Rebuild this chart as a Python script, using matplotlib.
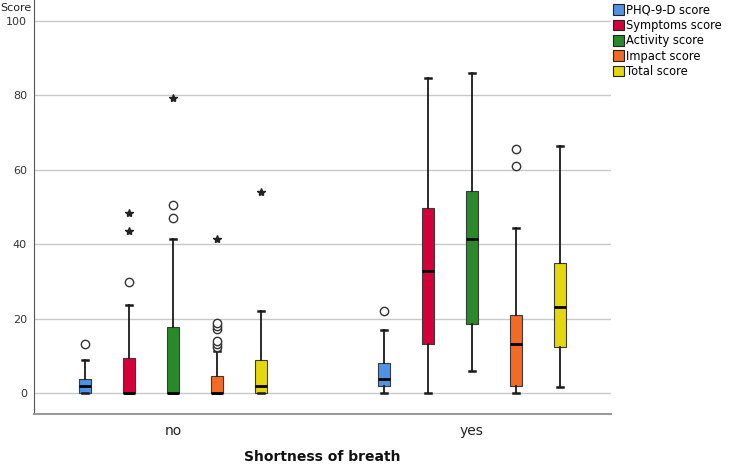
import matplotlib
matplotlib.use('Agg')
import matplotlib.pyplot as plt
from matplotlib.patches import Patch

groups = ['no', 'yes']
series = ['PHQ-9-D score', 'Symptoms score', 'Activity score', 'Impact score', 'Total score']
colors = ['#4f93e6', '#d4003a', '#2a8a2a', '#f26a24', '#e4d70c']

# five-number summaries [whislo, q1, med, q3, whishi]
no_stats = [
    [0, 0, 2.0, 3.9, 9.0],
    [0, 0, 0, 9.5, 23.7],
    [0, 0, 0, 17.7, 41.5],
    [0, 0, 0, 4.7, 11.4],
    [0, 0, 1.8, 9.0, 22.0],
]
yes_stats = [
    [0, 2.0, 3.9, 8.0, 17.0],
    [0, 13.3, 32.9, 49.8, 84.6],
    [6.0, 18.7, 41.5, 54.4, 86.0],
    [0, 2.0, 13.3, 21.0, 44.3],
    [1.7, 12.4, 23.1, 35.0, 66.4],
]
no_outliers = [[13.1], [29.8], [47.0, 50.5], [12.3, 13.2, 14.0, 17.2, 18.1, 18.9], []]
no_extremes = [[], [43.5, 48.5], [79.2], [41.5], [54.1]]
yes_outliers = [[22.0], [], [], [61.1, 65.5], []]
yes_extremes = [[], [], [], [], []]

y_ticks = [0, 20, 40, 60, 80, 100]

W, H = 729, 465
fig = plt.figure(figsize=(W / 100, H / 100), dpi=100)
ax = fig.add_axes([34 / W, 1 - 414 / H, (611 - 34) / W, 414 / H])

offsets = [-0.294, -0.147, 0.0, 0.147, 0.294]
box_w = 0.040

all_stats = [no_stats, yes_stats]
all_out = [no_outliers, yes_outliers]
all_ext = [no_extremes, yes_extremes]

for gi, g in enumerate(groups):
    for si in range(len(series)):
        lo, q1, med, q3, hi = all_stats[gi][si]
        pos = gi + offsets[si]
        st = dict(whislo=lo, q1=q1, med=med, q3=q3, whishi=hi, fliers=[])
        ax.bxp([st], positions=[pos], widths=box_w, patch_artist=True,
               showfliers=False, capwidths=0.018,
               boxprops=dict(facecolor=colors[si], edgecolor='#3a3a3a', linewidth=0.8),
               medianprops=dict(color='black', linewidth=2.0),
               whiskerprops=dict(color='#1a1a1a', linewidth=1.3),
               capprops=dict(color='#1a1a1a', linewidth=1.8),
               zorder=3)
        outs = all_out[gi][si]
        if outs:
            ax.plot([pos] * len(outs), outs, linestyle='none', marker='o',
                    markersize=6, markerfacecolor='white', markeredgecolor='#333333',
                    markeredgewidth=1.0, zorder=4)
        exts = all_ext[gi][si]
        if exts:
            ax.plot([pos] * len(exts), exts, linestyle='none', marker='*',
                    markersize=6, color='#222222', zorder=4)

ax.set_xlim(-0.465, 1.465)
ax.set_ylim(-5.6, 105.6)
ax.set_yticks(y_ticks)
ax.set_yticklabels([str(t) for t in y_ticks], fontsize=8, color='#333333')
ax.set_xticks([0, 1])
ax.set_xticklabels(groups, fontsize=10, color='#222222')
ax.tick_params(axis='both', length=0, pad=5)
ax.tick_params(axis='x', pad=7)
ax.yaxis.grid(True, color='#c8c8c8', linewidth=1.0, zorder=0)
ax.set_axisbelow(True)
for s in ['top', 'right']:
    ax.spines[s].set_visible(False)
ax.spines['left'].set_color('#555555')
ax.spines['bottom'].set_color('#999999')
ax.spines['bottom'].set_linewidth(1.5)

fig.text(322.5 / W, 1 - 457 / H, 'Shortness of breath', fontsize=10, fontweight='bold',
         color='#111111', ha='center', va='center')
fig.text(0.5 / W, 1 - 8 / H, 'Score', fontsize=8, color='#222222', ha='left', va='center')

handles = [Patch(facecolor=c, edgecolor='#222222', linewidth=0.8) for c in colors]
fig.legend(handles, series, loc='upper left', bbox_to_anchor=(608 / W, 1 + 1 / H),
           frameon=False, fontsize=8.3, handlelength=0.95, handleheight=1.05,
           handletextpad=0.25, labelspacing=0.2, borderaxespad=0)

fig.savefig('out.png', dpi=100)
